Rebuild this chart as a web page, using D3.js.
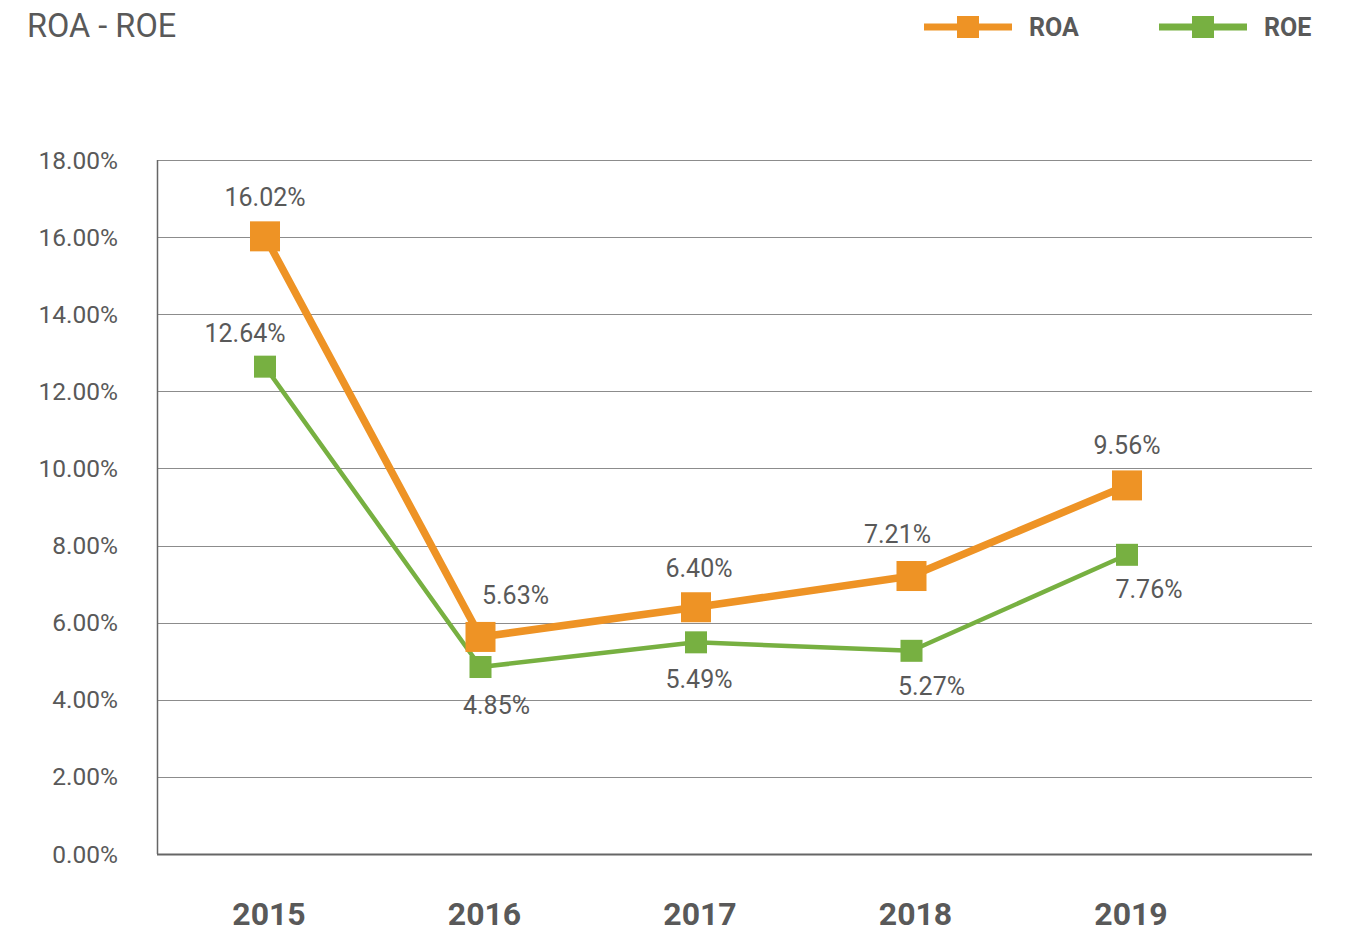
<!DOCTYPE html>
<html>
<head>
<meta charset="utf-8">
<script src="https://cdn.jsdelivr.net/npm/d3@7"></script>
<style>
  body { margin: 0; background: #fff; }
  text { font-family: Roboto, "Open Sans", sans-serif; fill: #595959; }
</style>
</head>
<body>
<script>
//----------------------------------------- data -----------------------------------------
var years = ["2015", "2016", "2017", "2018", "2019"];
var roa = [16.02, 5.63, 6.40, 7.21, 9.56];
var roe = [12.64, 4.85, 5.49, 5.27, 7.76];
var yTicks = [0, 2, 4, 6, 8, 10, 12, 14, 16, 18];

// label nudges (dx, dy) for each point, layout only
var roaLabelPos = [[0, -39], [35, -42], [3, -39], [-14, -42], [0, -40]];
var roeLabelPos = [[-20, -33], [16, 38], [3, 37], [20, 35], [22, 34]];

//----------------------------------------- svg ------------------------------------------
var svg = d3.select("body").append("svg")
    .attr("width", 1346)
    .attr("height", 933);

var plotLeft = 157, plotRight = 1312, plotTop = 160, plotBottom = 854;

var x = d3.scalePoint()
    .domain(years)
    .range([265, 1127]);

var y = d3.scaleLinear()
    .domain([0, 18])
    .range([plotBottom, plotTop]);

// grid lines
svg.append("g")
  .selectAll("line")
  .data(yTicks)
  .enter().append("line")
    .attr("x1", plotLeft)
    .attr("x2", plotRight)
    .attr("y1", function(d) { return Math.round(y(d)) + 0.5; })
    .attr("y2", function(d) { return Math.round(y(d)) + 0.5; })
    .attr("stroke", function(d) { return d === 0 ? "#666" : "#8c8c8c"; })
    .attr("stroke-width", function(d) { return d === 0 ? 2 : 1; });

// y axis line
svg.append("line")
    .attr("x1", plotLeft + 0.5).attr("x2", plotLeft + 0.5)
    .attr("y1", plotTop).attr("y2", plotBottom)
    .attr("stroke", "#666")
    .attr("stroke-width", 1.5);

// y tick labels
svg.append("g")
  .selectAll("text")
  .data(yTicks)
  .enter().append("text")
    .attr("x", 118)
    .attr("y", function(d) { return y(d); })
    .attr("dy", "0.35em")
    .attr("text-anchor", "end")
    .style("font-size", "24.5px")
    .text(function(d) { return d.toFixed(2) + "%"; });

// x labels
svg.append("g")
  .selectAll("text")
  .data(years)
  .enter().append("text")
    .attr("x", function(d) { return x(d) + 4; })
    .attr("y", 914)
    .attr("dy", "0.35em")
    .attr("text-anchor", "middle")
    .style("font-size", "32px")
    .style("font-weight", "bold")
    .text(function(d) { return d; });

//----------------------------------------- series ---------------------------------------
function drawSeries(vals, color, lw, size, labelPos) {
  var pts = vals.map(function(v, i) { return { year: years[i], v: v }; });
  var line = d3.line()
      .x(function(d) { return x(d.year); })
      .y(function(d) { return y(d.v); });

  svg.append("path")
      .datum(pts)
      .attr("d", line)
      .attr("fill", "none")
      .attr("stroke", color)
      .attr("stroke-width", lw)
      .attr("stroke-linejoin", "round");

  svg.append("g")
    .selectAll("rect")
    .data(pts)
    .enter().append("rect")
      .attr("x", function(d) { return x(d.year) - size / 2; })
      .attr("y", function(d) { return y(d.v) - size / 2; })
      .attr("width", size)
      .attr("height", size)
      .attr("fill", color);

  svg.append("g")
    .selectAll("text")
    .data(pts)
    .enter().append("text")
      .attr("x", function(d, i) { return x(d.year) + labelPos[i][0]; })
      .attr("y", function(d, i) { return y(d.v) + labelPos[i][1]; })
      .attr("dy", "0.35em")
      .attr("text-anchor", "middle")
      .style("font-size", "25px")
      .text(function(d) { return d.v.toFixed(2) + "%"; });
}

drawSeries(roe, "#77b041", 4.5, 22, roeLabelPos);
drawSeries(roa, "#ee9325", 7.5, 30, roaLabelPos);

//----------------------------------------- title & legend -------------------------------
svg.append("text")
    .attr("x", 27)
    .attr("y", 26)
    .attr("dy", "0.35em")
    .style("font-size", "32.5px")
    .text("ROA - ROE");

var legend = [
  { name: "ROA", color: "#ee9325", x: 924 },
  { name: "ROE", color: "#77b041", x: 1159 }
];

var lg = svg.append("g").selectAll("g")
    .data(legend)
    .enter().append("g");

lg.append("line")
    .attr("x1", function(d) { return d.x; })
    .attr("x2", function(d) { return d.x + 88; })
    .attr("y1", 27).attr("y2", 27)
    .attr("stroke", function(d) { return d.color; })
    .attr("stroke-width", 7);

lg.append("rect")
    .attr("x", function(d) { return d.x + 33; })
    .attr("y", 16)
    .attr("width", 22).attr("height", 22)
    .attr("fill", function(d) { return d.color; });

lg.append("text")
    .attr("x", function(d) { return d.x + 105; })
    .attr("y", 27)
    .attr("dy", "0.35em")
    .style("font-size", "25px")
    .style("font-weight", "bold")
    .text(function(d) { return d.name; });
</script>
</body>
</html>
